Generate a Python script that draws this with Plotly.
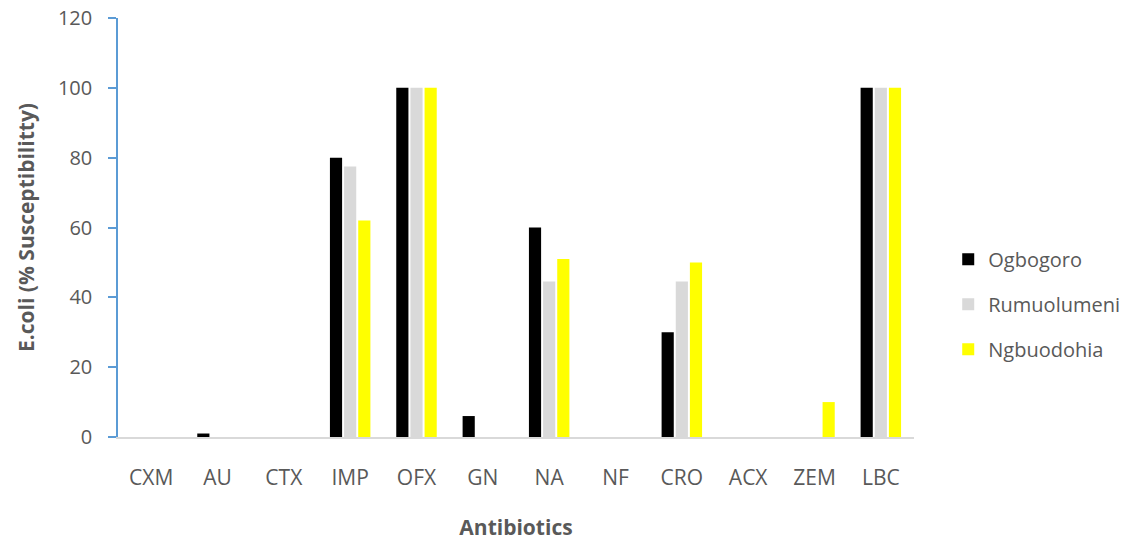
import plotly.graph_objects as go

categories = ["CXM", "AU", "CTX", "IMP", "OFX", "GN", "NA", "NF", "CRO", "ACX", "ZEM", "LBC"]
ogbogoro = [0, 1, 0, 80, 100, 6, 60, 0, 30, 0, 0, 100]
rumuolumeni = [0, 0, 0, 77.5, 100, 0, 44.5, 0, 44.5, 0, 0, 100]
ngbuodohia = [0, 0, 0, 62, 100, 0, 51, 0, 50, 0, 10, 100]
series_names = ["Ogbogoro", "Rumuolumeni", "Ngbuodohia"]
series_colors = ["#000000", "#D9D9D9", "#FFFF00"]
y_ticks = [0, 20, 40, 60, 80, 100, 120]

font_family = "'Open Sans', Lato, 'DejaVu Sans', sans-serif"
text_color = "#595959"

fig = go.Figure()
for name, vals, col in zip(series_names, [ogbogoro, rumuolumeni, ngbuodohia], series_colors):
    fig.add_trace(go.Bar(
        x=categories, y=vals, name=name, legendgroup=name,
        marker=dict(color=col, line=dict(width=0)),
    ))

fig.update_layout(
    width=1137, height=541, autosize=False,
    margin=dict(l=118, r=209, t=18, b=104),
    paper_bgcolor="white", plot_bgcolor="white",
    barmode="group", bargap=0.36, bargroupgap=0.14,
    font=dict(family=font_family, color=text_color, size=21),
    showlegend=True,
    legend=dict(
        x=1.043, y=0.317, xanchor="left", yanchor="middle",
        font=dict(size=20, color=text_color),
        tracegroupgap=16, itemwidth=30,
    ),
    xaxis=dict(
        automargin=False,
        showline=True, linecolor="#D9D9D9", linewidth=1.5,
        showgrid=False, ticks="", ticklabelstandoff=21,
        tickfont=dict(size=21, color=text_color),
        title=dict(text="<b>Antibiotics</b>", font=dict(size=21, color=text_color), standoff=30),
    ),
    yaxis=dict(
        automargin=False,
        range=[0, 120], tickvals=y_ticks, showgrid=False, zeroline=False,
        showline=True, linecolor="#5B9BD5", linewidth=1.5,
        ticks="outside", tickcolor="#5B9BD5", ticklen=8, tickwidth=1.5,
        ticklabelstandoff=12,
        tickfont=dict(size=20, color=text_color),
        title=dict(text="<b>E.coli (% Susceptibilitty)</b>", font=dict(size=21, color=text_color), standoff=18),
    ),
)

fig.write_html(
    "out.html",
    config={"displayModeBar": False, "responsive": False},
    post_script="document.body.style.margin='0px';document.documentElement.style.overflow='hidden';",
)
